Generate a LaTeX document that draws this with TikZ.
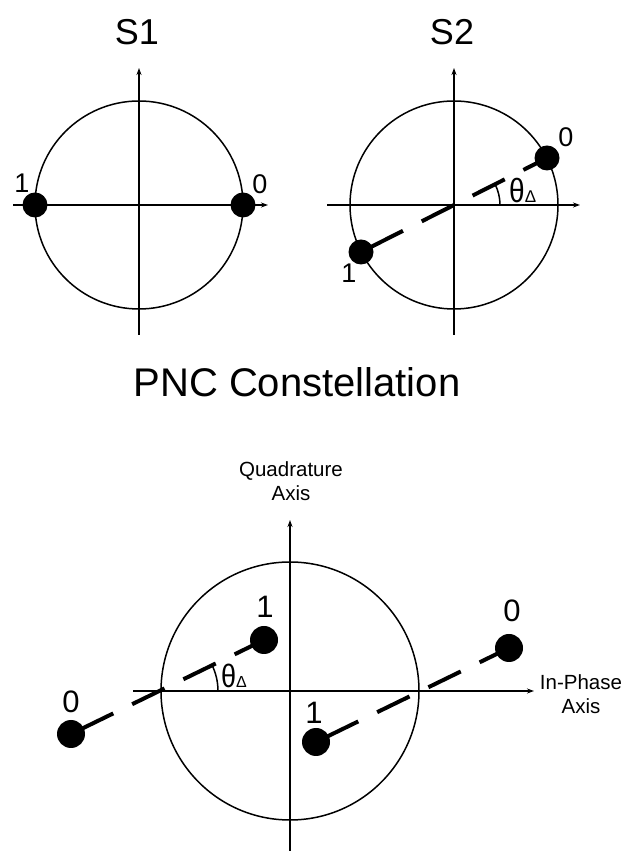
\documentclass[tikz,border=0pt]{standalone}
\usepackage{fontspec}
\setmainfont{Liberation Sans}
\usepackage{tikz}
\usetikzlibrary{arrows.meta}

\newcommand{\thetadelta}[1]{\scalebox{1}[1.2]{θ}{\fontsize{#1}{#1}\selectfont Δ}}

\begin{document}
\begin{tikzpicture}[x=1pt, y=1pt,
  ring/.style={line width=1.5pt},
  axis/.style={line width=1.5pt, -{Stealth[length=7pt, width=5pt]}},
  dot/.style={circle, fill=black, inner sep=0pt, minimum size=25pt},
  bigdot/.style={dot, minimum size=28pt},
  phase/.style={line width=4pt, dash pattern=on 36pt off 21pt, dash phase=46pt},
  title/.style={font=\fontsize{36}{36}\selectfont, inner sep=0pt},
  bit/.style={font=\fontsize{27}{27}\selectfont, inner sep=0pt},
  bigbit/.style={font=\fontsize{31}{31}\selectfont, inner sep=0pt},
  axlabel/.style={font=\fontsize{20.5}{24}\selectfont, align=center, inner sep=0pt},
]
\useasboundingbox (0,0) rectangle (624,851);

% S1
\coordinate (c1) at (139,646);
\coordinate (s1top) at (139,783);
\coordinate (s1bot) at (139,516);
\coordinate (s1left) at (13,646);
\coordinate (s1right) at (268,646);
\draw[ring] (c1) circle (104);
\draw[axis] (s1bot) -- (s1top);
\draw[axis] (s1left) -- (s1right);
\node[dot] (s1one) at (35,646) {};
\node[dot] (s1zero) at (243,646) {};
\node[title] (s1title) at (137,819) {S1};
\node[bit] (s1onelbl) at (22,668) {1};
\node[bit] (s1zerolbl) at (260,667) {0};

% S2
\coordinate (c2) at (454,646);
\coordinate (s2top) at (454,783);
\coordinate (s2bot) at (454,516);
\coordinate (s2left) at (327,646);
\coordinate (s2right) at (580,646);
\draw[ring] (c2) circle (104);
\draw[axis] (s2bot) -- (s2top);
\draw[axis] (s2left) -- (s2right);
\node[dot] (s2one) at (361,599) {};
\node[dot] (s2zero) at (547,693) {};
\draw[phase] (s2one.center) -- (s2zero.center);
\draw[ring] (c2) ++(46,0) arc[start angle=0, end angle=27, radius=46];
\node[title] (s2title) at (452,819) {S2};
\node[bit] (s2zerolbl) at (566,714) {0};
\node[bit] (s2onelbl) at (349,578) {1};
\node[font=\fontsize{28}{28}\selectfont, inner sep=0pt, anchor=base west] (s2angle) at (509,648.5) {\thetadelta{17}};

\node[font=\fontsize{40}{40}\selectfont, inner sep=0pt] (pnctitle) at (297,469) {PNC Constellation};

% PNC
\coordinate (c3) at (290,160);
\coordinate (qtop) at (290,331);
\coordinate (qbot) at (290,0);
\coordinate (ileft) at (133,160);
\coordinate (iright) at (534,160);
\draw[ring] (c3) circle (129);
\draw[axis] (qbot) -- (qtop);
\draw[axis] (ileft) -- (iright);
\node[bigdot] (pzeroleft) at (71,117) {};
\node[bigdot] (ponetop) at (264,211) {};
\node[bigdot] (ponebot) at (316,109) {};
\node[bigdot] (pzeroright) at (509,203) {};
\draw[phase] (pzeroleft.center) -- (ponetop.center);
\draw[phase] (ponebot.center) -- (pzeroright.center);
\draw[ring] (159,160) ++(59,0) arc[start angle=0, end angle=26, radius=59];
\node[bigbit] (pzeroleftlbl) at (71,149) {0};
\node[bigbit] (ponetoplbl) at (265,244) {1};
\node[bigbit] (ponebotlbl) at (314,138) {1};
\node[bigbit] (pzerorightlbl) at (512,240) {0};
\node[font=\fontsize{27}{27}\selectfont, inner sep=0pt, anchor=base west] (pangle) at (221,163.5) {\thetadelta{16}};
\node[axlabel] (qlabel) at (291,370) {Quadrature\\Axis};
\node[axlabel] (ilabel) at (581,157) {In-Phase\\Axis};
\end{tikzpicture}
\end{document}
